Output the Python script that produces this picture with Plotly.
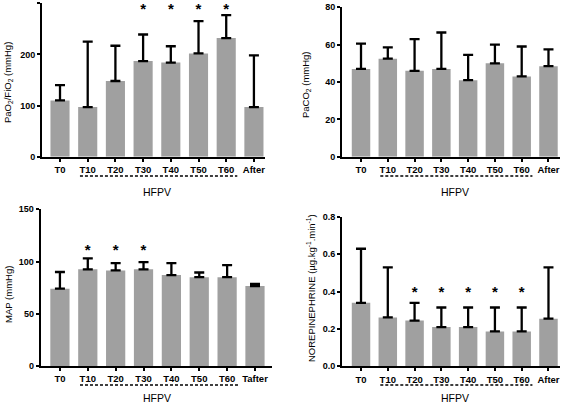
import plotly.graph_objects as go

W, H = 567, 404

# ---------------- data ----------------
cats_a = ["T0", "T10", "T20", "T30", "T40", "T50", "T60", "After"]
cats_map = ["T0", "T10", "T20", "T30", "T40", "T50", "T60", "Tafter"]

pf_mean = [110, 97, 148, 187, 184, 202, 232, 97]
pf_top = [140, 225, 217, 239, 216, 265, 277, 198]
pf_star_cats = ["T30", "T40", "T50", "T60"]
pf_star_y = [287, 287, 287, 287]

paco2_mean = [47, 52.5, 46, 47, 41, 50, 43, 48.5]
paco2_top = [60.5, 58.5, 63, 66.5, 54.5, 60, 59, 57.5]

map_mean = [74, 92.5, 91.5, 92.5, 87, 85, 85, 76.5]
map_top = [90, 103, 98.5, 99.5, 98.5, 89.5, 96.5, 78.5]
map_star_cats = ["T10", "T20", "T30"]
map_star_y = [110, 110, 110]

ne_mean = [0.34, 0.262, 0.245, 0.21, 0.21, 0.187, 0.187, 0.255]
ne_top = [0.63, 0.53, 0.34, 0.315, 0.315, 0.315, 0.315, 0.53]
ne_star_cats = ["T20", "T30", "T40", "T50", "T60"]
ne_star_y = [0.39, 0.39, 0.39, 0.39, 0.39]

titles = [
    "PaO<sub>2</sub>/FiO<sub>2</sub> (mmHg)",
    "PaCO<sub>2</sub> (mmHg)",
    "MAP (mmHg)",
    "NOREPINEPHRINE (µg.kg<sup>-1</sup>.min<sup>-1</sup>)",
]

FONT = "Liberation Sans, Arial, sans-serif"
BAR = "#a0a0a0"

fig = go.Figure()

panels = [
    dict(cats=cats_a, mean=pf_mean, top=pf_top, stars=(pf_star_cats, pf_star_y),
         xdom=[42 / W, 265 / W], ydom=[1 - 156.7 / H, 1 - 3.3 / H],
         xr=[-0.65, 7.4], yr=[0, 300], dt=100, fmt="d",
         title_xy=(8, 83), dash_y=176, hfpv_y=192),
    dict(cats=cats_a, mean=paco2_mean, top=paco2_top, stars=None,
         xdom=[342 / W, 560 / W], ydom=[1 - 156.7 / H, 1 - 7.3 / H],
         xr=[-0.71, 7.43], yr=[0, 80], dt=20, fmt="d",
         title_xy=(306, 85), dash_y=176, hfpv_y=192),
    dict(cats=cats_map, mean=map_mean, top=map_top, stars=(map_star_cats, map_star_y),
         xdom=[40.7 / W, 271.7 / W], ydom=[1 - 366 / H, 1 - 209.3 / H],
         xr=[-0.69, 7.6], yr=[0, 150], dt=50, fmt="d",
         title_xy=(8, 295), dash_y=385, hfpv_y=398),
    dict(cats=cats_a, mean=ne_mean, top=ne_top, stars=(ne_star_cats, ne_star_y),
         xdom=[342 / W, 560 / W], ydom=[1 - 366.3 / H, 1 - 217 / H],
         xr=[-0.71, 7.43], yr=[0, 0.8], dt=0.2, fmt=".1f",
         title_xy=(311, 288), dash_y=385, hfpv_y=398),
]

annotations = []
shapes = []
for i, p in enumerate(panels):
    n = "" if i == 0 else str(i + 1)
    xa, ya = "x" + n, "y" + n
    err = [t - m for t, m in zip(p["top"], p["mean"])]
    fig.add_trace(go.Bar(
        x=p["cats"], y=p["mean"], xaxis=xa, yaxis=ya,
        marker=dict(color=BAR, line=dict(width=0)), width=0.69,
        error_y=dict(type="data", symmetric=False, array=err,
                     arrayminus=[0] * len(err), color="black",
                     thickness=2.3, width=5),
        showlegend=False, hoverinfo="skip",
    ))
    if p["stars"]:
        sc, sy = p["stars"]
        fig.add_trace(go.Scatter(
            x=sc, y=sy, xaxis=xa, yaxis=ya, mode="text", text=["*"] * len(sc),
            textfont=dict(family=FONT, size=15, color="black", weight="bold"),
            textposition="middle center", cliponaxis=False,
            showlegend=False, hoverinfo="skip",
        ))
    ax = dict(
        domain=p["xdom"], range=p["xr"], type="category", anchor=ya,
        showline=True, linecolor="black", linewidth=2, showgrid=False,
        ticks="outside", ticklen=3, tickwidth=1.5, tickcolor="black",
        tickfont=dict(family=FONT, size=9.5, color="black", weight="bold"),
        zeroline=False, fixedrange=True, automargin=False,
    )
    ay = dict(
        domain=p["ydom"], range=p["yr"], anchor=xa,
        showline=True, linecolor="black", linewidth=2, showgrid=False,
        ticks="outside", ticklen=3, tickwidth=1.5, tickcolor="black",
        dtick=p["dt"], tick0=0, tickformat=p["fmt"],
        tickfont=dict(family=FONT, size=9, color="black", weight="bold"),
        zeroline=False, fixedrange=True, automargin=False,
    )
    fig.update_layout(**{"xaxis" + n: ax, "yaxis" + n: ay})

    tx, ty = p["title_xy"]
    annotations.append(dict(
        text=titles[i], x=tx / W, y=1 - ty / H, xref="paper", yref="paper",
        textangle=-90, showarrow=False, xanchor="center", yanchor="middle",
        font=dict(family=FONT, size=9.5, color="black"),
    ))
    shapes.append(dict(
        type="line", xref=xa, yref="paper", x0=0.72, x1=6.4,
        y0=1 - p["dash_y"] / H, y1=1 - p["dash_y"] / H,
        line=dict(color="black", width=1.3, dash="3px,2px"),
    ))
    annotations.append(dict(
        text="HFPV", x=3.5, xref=xa, y=1 - p["hfpv_y"] / H, yref="paper",
        showarrow=False, xanchor="center", yanchor="middle",
        font=dict(family=FONT, size=10.5, color="black"),
    ))

fig.update_layout(
    width=W, height=H, margin=dict(l=0, r=0, t=0, b=0, autoexpand=False),
    paper_bgcolor="white", plot_bgcolor="white",
    annotations=annotations, shapes=shapes, bargap=0.3,
)

fig.write_html(
    "out.html",
    config={"displayModeBar": False},
    post_script="document.body.style.margin='0';document.body.style.overflow='hidden';",
)
